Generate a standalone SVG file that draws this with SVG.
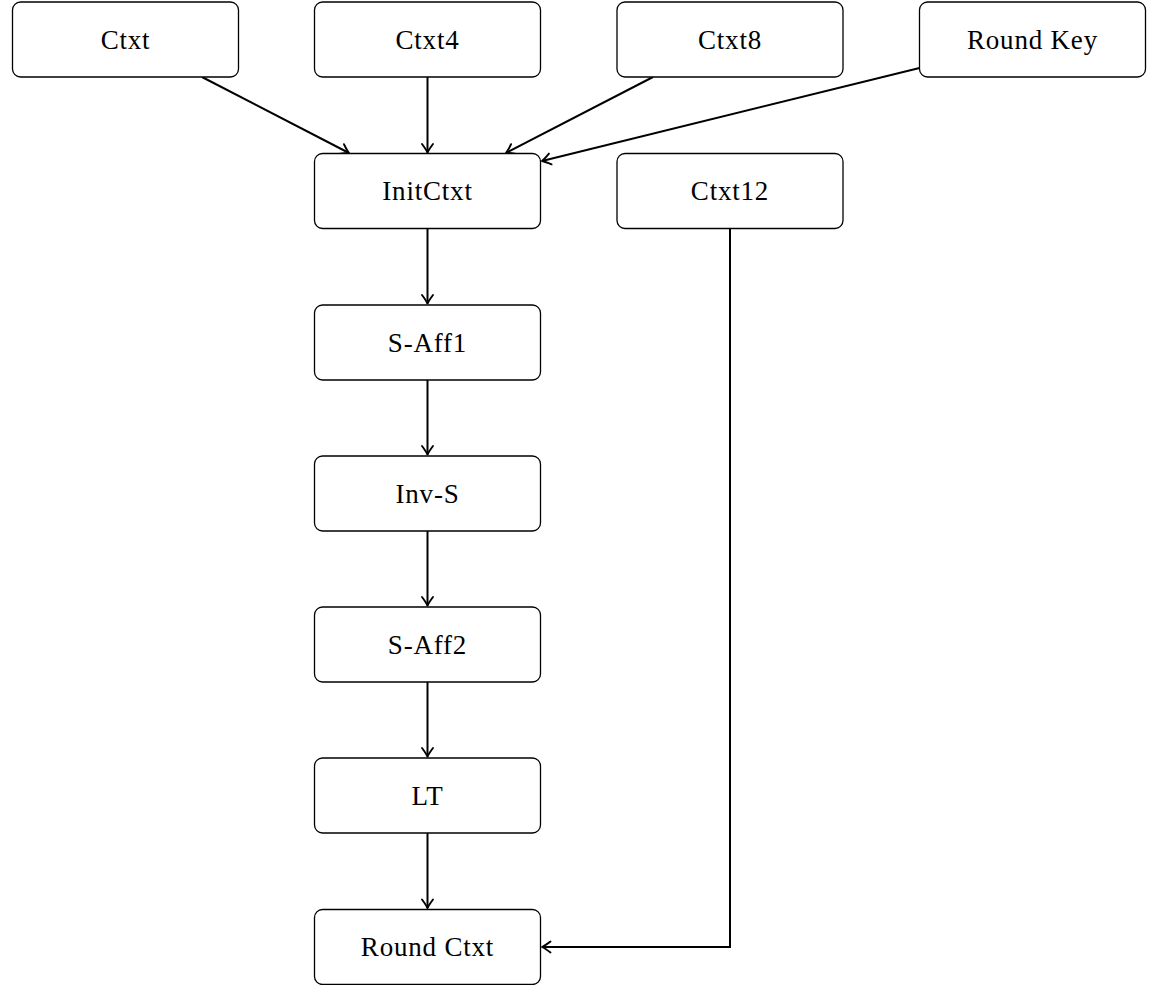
<svg xmlns="http://www.w3.org/2000/svg" width="1152" height="985" viewBox="0 0 1152 985">
<style>
.box{fill:#fff;stroke:#000;stroke-width:1.3}
.lbl{font-family:"Liberation Serif","Times New Roman",serif;font-size:27px;letter-spacing:0.8px;text-anchor:middle;fill:#000}
.edge{fill:none;stroke:#000;stroke-width:2;marker-end:url(#arr)}
</style>
<defs>
<marker id="arr" markerUnits="userSpaceOnUse" markerWidth="20" markerHeight="20" refX="0" refY="0" viewBox="-12 -10 14 20" orient="auto" overflow="visible">
<path d="M-8.5,-5.5 Q-3,-1.4 0,0 Q-3,1.4 -8.5,5.5" fill="none" stroke="#000" stroke-width="1.9" stroke-linecap="round" stroke-linejoin="round"/>
</marker>
</defs>
<rect width="1152" height="985" fill="#fff"/>
<g id="connectors">
<path class="edge" d="M202,77 L349,153"/>
<path class="edge" d="M427.5,77 L427.5,152.5"/>
<path class="edge" d="M653,77 L506,153"/>
<path class="edge" d="M919.5,68 L542,161"/>
<path class="edge" d="M427.5,228.5 L427.5,303.5"/>
<path class="edge" d="M427.5,380 L427.5,454.5"/>
<path class="edge" d="M427.5,531 L427.5,605.5"/>
<path class="edge" d="M427.5,682 L427.5,756.5"/>
<path class="edge" d="M427.5,833 L427.5,908"/>
<path class="edge" d="M730,229 L730,947 L542,947"/>
</g>
<g id="ctxt"><rect class="box" x="12.5" y="2" width="226" height="75" rx="8"/><text class="lbl" x="125.5" y="48.5">Ctxt</text></g>
<g id="ctxt4"><rect class="box" x="314.5" y="2" width="226" height="75" rx="8"/><text class="lbl" x="427.5" y="48.5">Ctxt4</text></g>
<g id="ctxt8"><rect class="box" x="617" y="2" width="226" height="75" rx="8"/><text class="lbl" x="730" y="48.5">Ctxt8</text></g>
<g id="roundkey"><rect class="box" x="919.5" y="2" width="226" height="75" rx="8"/><text class="lbl" x="1032.5" y="48.5">Round Key</text></g>
<g id="initctxt"><rect class="box" x="314.5" y="153.5" width="226" height="75" rx="8"/><text class="lbl" x="427.5" y="200">InitCtxt</text></g>
<g id="ctxt12"><rect class="box" x="617" y="153.5" width="226" height="75" rx="8"/><text class="lbl" x="730" y="200">Ctxt12</text></g>
<g id="saff1"><rect class="box" x="314.5" y="305" width="226" height="75" rx="8"/><text class="lbl" x="427.5" y="351.5">S-Aff1</text></g>
<g id="invs"><rect class="box" x="314.5" y="456" width="226" height="75" rx="8"/><text class="lbl" x="427.5" y="502.5">Inv-S</text></g>
<g id="saff2"><rect class="box" x="314.5" y="607" width="226" height="75" rx="8"/><text class="lbl" x="427.5" y="653.5">S-Aff2</text></g>
<g id="lt"><rect class="box" x="314.5" y="758" width="226" height="75" rx="8"/><text class="lbl" x="427.5" y="804.5">LT</text></g>
<g id="roundctxt"><rect class="box" x="314.5" y="909.5" width="226" height="75" rx="8"/><text class="lbl" x="427.5" y="956">Round Ctxt</text></g>
</svg>
